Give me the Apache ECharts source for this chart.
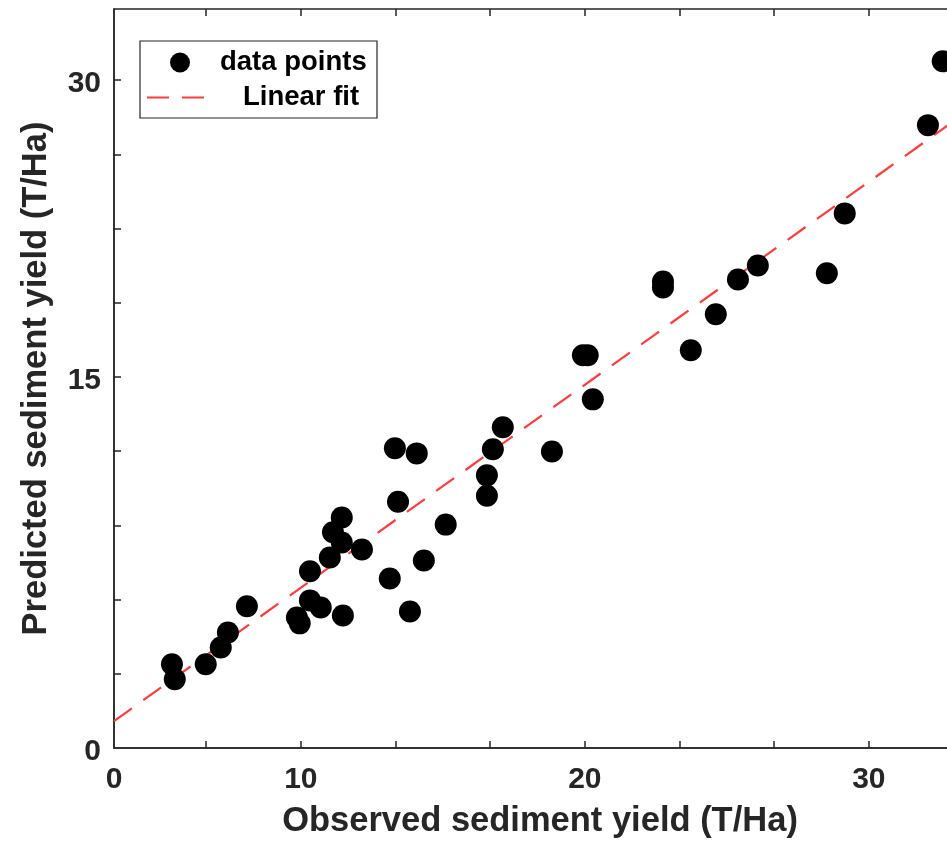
<!DOCTYPE html>
<html><head><meta charset="utf-8">
<script src="https://cdn.jsdelivr.net/npm/echarts@6/dist/echarts.min.js"></script>
<style>html,body{margin:0;padding:0;background:#fff;overflow:hidden}#chart{width:947px;height:845px}</style>
</head><body><div id="chart"></div>
<script>
// Data
const observed = [5.46, 5.56, 6.65, 7.18, 7.43, 8.10, 9.86, 9.96, 10.32, 10.32, 10.70, 11.02, 11.13, 11.44, 11.44, 11.48, 12.15, 13.13, 13.31, 13.42, 13.84, 14.08, 14.33, 15.10, 16.55, 16.55, 16.76, 17.11, 18.84, 19.93, 20.10, 20.28, 22.75, 22.75, 23.73, 24.61, 25.39, 26.09, 28.52, 29.15, 32.08, 32.60];
const predicted = [0.48, -0.28, 0.48, 1.33, 2.09, 3.41, 2.85, 2.55, 5.18, 3.71, 3.35, 5.88, 7.15, 7.90, 6.64, 2.95, 6.28, 4.82, 11.40, 8.70, 3.15, 11.14, 5.73, 7.54, 9.00, 10.03, 11.35, 12.46, 11.24, 16.10, 16.10, 13.87, 19.83, 19.53, 16.35, 18.17, 19.93, 20.64, 20.24, 23.27, 27.73, 30.96];
const fitSlope = 1.0256;
const fitIntercept = -5.9;

// Axis extents and tick labels
const xMin = 3.42, xMax = 33.42;
const yMin = -3.75, yMax = 33.6;
const xTickValues = [20/3, 10, 40/3, 50/3, 20, 70/3, 80/3, 30, 100/3];
const xLabelValues = [3.42, 10, 20, 30];
const xLabelTexts = ['0', '10', '20', '30'];
const yTickValues = [0, 3.75, 7.5, 11.25, 15, 18.75, 22.5, 26.25, 30];
const yLabelValues = [-3.75, 15, 30];
const yLabelTexts = ['0', '15', '30'];

const seriesNames = ['data points', 'Linear fit'];
const xTitle = 'Observed sediment yield (T/Ha)';
const yTitle = 'Predicted sediment yield (T/Ha)';

const INK = '#262626';
const RED = '#ff3b3b';
const FONT = '"Liberation Sans", Arial, Helvetica, sans-serif';

function lookup(values, texts, rich) {
  return function (v) {
    const i = values.findIndex(function (t) { return Math.abs(t - v) < 1e-6; });
    const s = i >= 0 ? texts[i] : '';
    return rich && s ? '{v|' + s + '}' : s;
  };
}

const points = observed.map(function (x, i) { return [x, predicted[i]]; });
const fitLine = [xMin, xMax].map(function (x) { return [x, fitSlope * x + fitIntercept]; });

const chart = echarts.init(document.getElementById('chart'), null, {renderer: 'canvas'});
chart.setOption({
  animation: false,
  backgroundColor: '#fff',
  grid: {left: 114, width: 852, top: 9, bottom: 97, show: true, borderColor: INK, borderWidth: 1.5, backgroundColor: 'transparent', containLabel: false, outerBoundsMode: 'none'},
  xAxis: [{
    type: 'value', min: xMin, max: xMax,
    name: xTitle, nameLocation: 'middle', nameGap: 56,
    nameTextStyle: {fontFamily: FONT, fontWeight: 'bold', fontSize: 34.5, color: INK},
    axisLine: {show: true, onZero: false, lineStyle: {color: INK, width: 1.5}},
    axisTick: {show: true, inside: true, length: 7, customValues: xTickValues, lineStyle: {color: INK, width: 1.5}},
    axisLabel: {show: true, customValues: xLabelValues, formatter: lookup(xLabelValues, xLabelTexts, false), margin: 17, fontFamily: FONT, fontWeight: 'bold', fontSize: 30, color: INK, showMinLabel: true},
    splitLine: {show: false}
  }, {
    type: 'value', min: xMin, max: xMax, position: 'top',
    axisLine: {show: false, onZero: false},
    axisTick: {show: true, inside: true, length: 7, customValues: xTickValues, lineStyle: {color: INK, width: 1.5}},
    axisLabel: {show: false},
    splitLine: {show: false}
  }],
  yAxis: [{
    type: 'value', min: yMin, max: yMax,
    name: yTitle, nameLocation: 'middle', nameGap: 60, nameRotate: 90,
    nameTextStyle: {fontFamily: FONT, fontWeight: 'bold', fontSize: 34.5, color: INK},
    axisLine: {show: true, onZero: false, lineStyle: {color: INK, width: 1.5}},
    axisTick: {show: true, inside: true, length: 7, customValues: yTickValues, lineStyle: {color: INK, width: 1.5}},
    axisLabel: {
      show: true, customValues: yLabelValues, formatter: lookup(yLabelValues, yLabelTexts, true), margin: 13,
      fontFamily: FONT, fontWeight: 'bold', fontSize: 30, color: INK, showMinLabel: true,
      rich: {v: {fontFamily: FONT, fontWeight: 'bold', fontSize: 30, color: INK, padding: [7, 0, 0, 0]}}
    },
    splitLine: {show: false}
  }],
  series: [{
    name: seriesNames[1], type: 'line', data: fitLine, xAxisIndex: 0, yAxisIndex: 0,
    showSymbol: false, symbol: 'none', z: 2,
    lineStyle: {color: RED, width: 2.2, type: [22, 14]}
  }, {
    name: seriesNames[0], type: 'scatter', data: points, xAxisIndex: 0, yAxisIndex: 0,
    symbol: 'circle', symbolSize: 22, z: 3,
    itemStyle: {color: '#000', opacity: 1}
  }],
  graphic: [
    {type: 'rect', shape: {x: 140, y: 41, width: 237, height: 77}, style: {fill: '#fff', stroke: INK, lineWidth: 1.2}, z: 10},
    {type: 'circle', shape: {cx: 180, cy: 62.5, r: 10}, style: {fill: '#000'}, z: 11},
    {type: 'line', shape: {x1: 147, y1: 97.5, x2: 204, y2: 97.5}, style: {stroke: RED, lineWidth: 2.2, lineDash: [22, 13]}, z: 11},
    {type: 'text', x: 220, y: 62.5, style: {text: seriesNames[0], font: 'bold 27.5px ' + FONT, fill: '#000', textVerticalAlign: 'middle', textAlign: 'left'}, z: 11},
    {type: 'text', x: 243, y: 97.5, style: {text: seriesNames[1], font: 'bold 27.5px ' + FONT, fill: '#000', textVerticalAlign: 'middle', textAlign: 'left'}, z: 11}
  ]
});
</script>
</body></html>
